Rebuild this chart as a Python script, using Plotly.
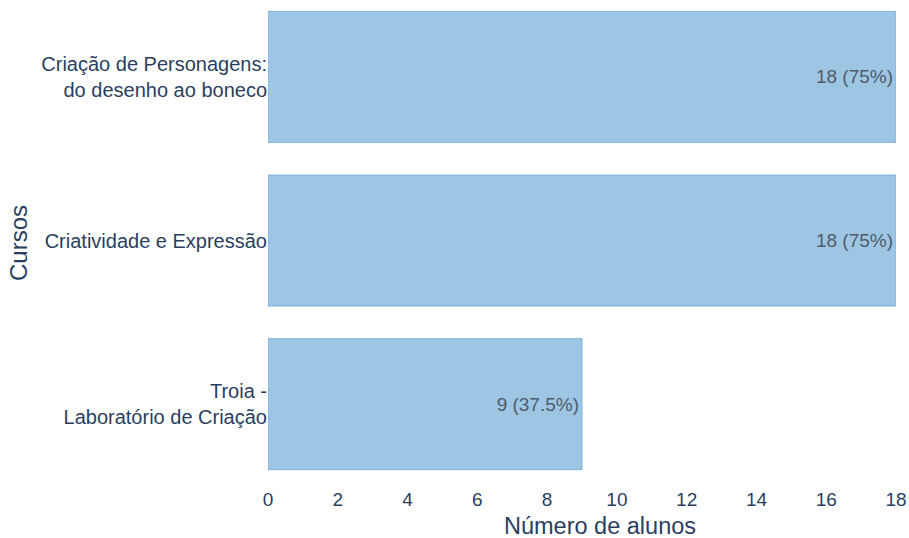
import plotly.graph_objects as go

# Course enrolment data
cursos = [
    "Criação de Personagens:<br>do desenho ao boneco",
    "Criatividade e Expressão",
    "Troia -<br>Laboratório de Criação",
]
alunos = [18, 18, 9]
percentuais = [75, 75, 37.5]

rotulos = [f"{n} ({p:g}%)" for n, p in zip(alunos, percentuais)]

fig = go.Figure(
    go.Bar(
        x=alunos,
        y=cursos,
        orientation="h",
        text=rotulos,
        textposition="inside",
        insidetextanchor="end",
        textfont=dict(size=19, color="#505b68", family="Liberation Sans, Arial, sans-serif"),
        marker=dict(color="#9dc6e5", line=dict(color="#7fb2da", width=1)),
    )
)

fig.update_layout(
    width=909,
    height=538,
    margin=dict(l=268, r=13, t=0, b=52),
    plot_bgcolor="white",
    paper_bgcolor="white",
    bargap=0.2,
    font=dict(family="Liberation Sans, Arial, sans-serif", color="#2a3f5f", size=20),
    showlegend=False,
)

fig.update_xaxes(
    range=[0, 18],
    tickmode="linear",
    tick0=0,
    dtick=2,
    showgrid=False,
    zeroline=False,
    tickfont=dict(size=19),
)

# x-axis title placed as an annotation under the tick labels
fig.add_annotation(
    text="Número de alunos",
    xref="paper",
    yref="paper",
    x=0.529,
    y=-0.0815,
    xanchor="center",
    yanchor="middle",
    showarrow=False,
    font=dict(size=23.5, color="#2a3f5f"),
)

fig.update_yaxes(
    categoryorder="array",
    categoryarray=cursos,
    range=[2.5, -0.47],
    showgrid=False,
    tickfont=dict(size=20),
    title=dict(text="Cursos", font=dict(size=24), standoff=6),
)

fig.write_html("out.html")
